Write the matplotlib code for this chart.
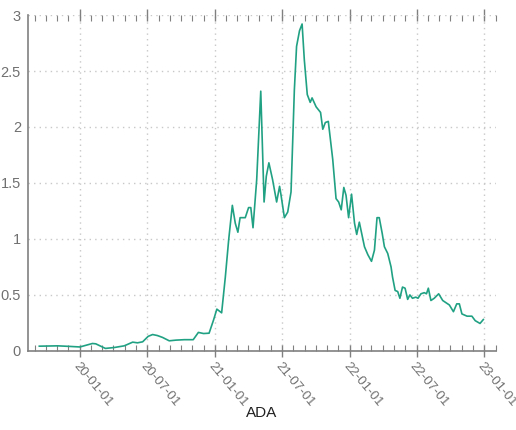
import matplotlib
matplotlib.use("Agg")
import matplotlib.pyplot as plt
import matplotlib.dates as mdates
import pandas as pd

# ADA price
dates = [
    "2019-09-13", "2019-11-02", "2019-12-04", "2020-01-01", "2020-02-04", "2020-02-13",
    "2020-03-10", "2020-04-03", "2020-04-30", "2020-05-23", "2020-06-05", "2020-06-19",
    "2020-07-04", "2020-07-16", "2020-07-29", "2020-08-12", "2020-08-30", "2020-09-17",
    "2020-10-10", "2020-11-03", "2020-11-17", "2020-12-01", "2020-12-16", "2020-12-28",
    "2021-01-06", "2021-01-19", "2021-01-29", "2021-02-07", "2021-02-17", "2021-02-25",
    "2021-03-04", "2021-03-10", "2021-03-24", "2021-04-02", "2021-04-08", "2021-04-14",
    "2021-04-24", "2021-05-05", "2021-05-14", "2021-05-20", "2021-05-27", "2021-06-06",
    "2021-06-17", "2021-06-25", "2021-06-29", "2021-07-08", "2021-07-17", "2021-07-26",
    "2021-07-31", "2021-08-04", "2021-08-10", "2021-08-18", "2021-08-25", "2021-08-31",
    "2021-09-08", "2021-09-16", "2021-09-21", "2021-10-02", "2021-10-14", "2021-10-20",
    "2021-10-27", "2021-11-04", "2021-11-16", "2021-11-25", "2021-12-02", "2021-12-09",
    "2021-12-16", "2021-12-22", "2021-12-29", "2022-01-06", "2022-01-14", "2022-01-20",
    "2022-01-27", "2022-02-10", "2022-02-19", "2022-03-01", "2022-03-09", "2022-03-16",
    "2022-03-22", "2022-03-30", "2022-04-05", "2022-04-14", "2022-04-23", "2022-04-27",
    "2022-05-04", "2022-05-11", "2022-05-17", "2022-05-24", "2022-05-31", "2022-06-07",
    "2022-06-13", "2022-06-20", "2022-06-29", "2022-07-05", "2022-07-13", "2022-07-22",
    "2022-07-28", "2022-08-02", "2022-08-09", "2022-08-18", "2022-08-30", "2022-09-10",
    "2022-09-19", "2022-09-28", "2022-10-09", "2022-10-18", "2022-10-25", "2022-11-01",
    "2022-11-15", "2022-11-28", "2022-12-07", "2022-12-20", "2022-12-29",
]
prices = [
    0.042, 0.045, 0.040, 0.035, 0.066, 0.063,
    0.022, 0.030, 0.045, 0.078, 0.072, 0.081,
    0.130, 0.146, 0.137, 0.120, 0.090, 0.096,
    0.100, 0.100, 0.165, 0.155, 0.158, 0.275,
    0.373, 0.340, 0.660, 0.990, 1.300, 1.140,
    1.060, 1.190, 1.190, 1.280, 1.280, 1.100,
    1.530, 2.320, 1.330, 1.560, 1.680, 1.530,
    1.330, 1.470, 1.390, 1.190, 1.240, 1.420,
    1.920, 2.330, 2.720, 2.860, 2.920, 2.600,
    2.290, 2.220, 2.260, 2.180, 2.130, 1.980,
    2.040, 2.050, 1.710, 1.360, 1.330, 1.260,
    1.460, 1.390, 1.190, 1.400, 1.140, 1.040,
    1.150, 0.930, 0.860, 0.800, 0.900, 1.190,
    1.190, 1.050, 0.930, 0.870, 0.750, 0.660,
    0.540, 0.530, 0.470, 0.570, 0.560, 0.460,
    0.500, 0.470, 0.480, 0.470, 0.510, 0.520,
    0.510, 0.560, 0.450, 0.470, 0.510, 0.450,
    0.430, 0.410, 0.350, 0.420, 0.420, 0.330,
    0.310, 0.310, 0.270, 0.245, 0.280,
]
y_ticks = [0, 0.5, 1, 1.5, 2, 2.5, 3]
y_labels = ["0", "0.5", "1", "1.5", "2", "2.5", "3"]
x_label = "ADA"

font = ["Liberation Sans", "DejaVu Sans"]
grey = "#808080"

fig = plt.figure(figsize=(5.16, 4.30), dpi=100)
ax = fig.add_axes([0.054, 0.184, 0.907, 0.781])

ax.plot(pd.to_datetime(dates), prices, color="#21a183", linewidth=1.2)

ax.set_xlim(pd.Timestamp("2019-08-13"), pd.Timestamp("2023-02-01"))
ax.set_ylim(0, 3)

# axes frame: left and bottom solid, top shown through the grid line and ticks
for side in ["top", "right"]:
    ax.spines[side].set_visible(False)
for side in ["left", "bottom"]:
    ax.spines[side].set_color(grey)
    ax.spines[side].set_linewidth(1.2)

ax.xaxis.set_major_locator(mdates.MonthLocator(bymonth=[1, 7]))
ax.xaxis.set_minor_locator(mdates.MonthLocator())
ax.xaxis.set_major_formatter(mdates.DateFormatter("%y-%m-%d"))
ax.tick_params(axis="x", which="major", direction="inout", length=8, width=1,
               color=grey, top=True, labelcolor="#707070", labelsize=9.5, pad=3)
ax.tick_params(axis="x", which="minor", direction="in", length=4, width=0.8,
               color=grey, top=True)
for lbl in ax.get_xticklabels():
    lbl.set_rotation(-50)
    lbl.set_ha("left")
    lbl.set_va("top")
    lbl.set_rotation_mode("anchor")
    lbl.set_family(font)

ax.set_yticks(y_ticks)
ax.set_yticklabels(y_labels, family=font)
ax.tick_params(axis="y", length=0, labelcolor="#707070", labelsize=10.5, pad=5)

ax.grid(True, which="major", color="#c8c8c8", linestyle=(0, (1, 3)), linewidth=1)

ax.set_xlabel(x_label, family=font, fontsize=11, color="#202020")
ax.xaxis.set_label_coords(0.50, -0.165)

fig.savefig("out.png", dpi=100)
